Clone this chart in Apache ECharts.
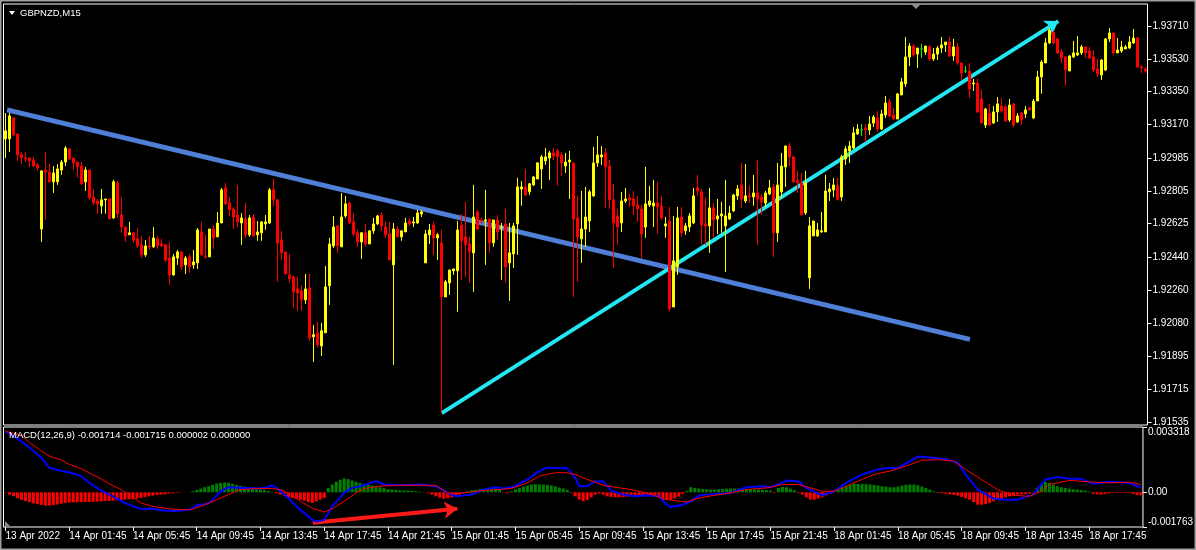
<!DOCTYPE html>
<html><head><meta charset="utf-8">
<script src="https://cdn.jsdelivr.net/npm/echarts@6/dist/echarts.min.js"></script>
<style>html,body{margin:0;padding:0;background:#000;}#chart{width:1196px;height:550px;}</style>
</head><body><div id="chart"></div>
<script>
const open = [
1.93090,1.93090,1.93205,1.93117,1.93002,1.92985,1.92985,1.92974,1.92947,1.92595,
1.92919,1.92908,1.92854,1.92854,1.92919,1.92963,1.93035,1.92985,1.92963,1.92941,
1.92854,1.92919,1.92771,1.92749,1.92722,1.92755,1.92760,1.92656,1.92848,1.92672,
1.92606,1.92563,1.92574,1.92541,1.92508,1.92453,1.92502,1.92497,1.92541,1.92513,
1.92508,1.92436,1.92343,1.92436,1.92469,1.92398,1.92442,1.92398,1.92409,1.92579,
1.92447,1.92442,1.92595,1.92552,1.92628,1.92821,1.92738,1.92705,1.92672,1.92628,
1.92650,1.92563,1.92661,1.92563,1.92574,1.92623,1.92628,1.92810,1.92755,1.92535,
1.92469,1.92343,1.92332,1.92266,1.92255,1.92206,1.92272,1.92003,1.92025,1.91953,
1.92025,1.92283,1.92502,1.92612,1.92497,1.92667,1.92738,1.92634,1.92574,1.92524,
1.92574,1.92513,1.92585,1.92623,1.92672,1.92606,1.92568,1.92398,1.92595,1.92552,
1.92579,1.92639,1.92628,1.92628,1.92678,1.92409,1.92563,1.92617,1.92546,1.92519,
1.92222,1.92299,1.92365,1.92365,1.92617,1.92552,1.92513,1.92464,1.92689,1.92645,
1.92639,1.92650,1.92519,1.92645,1.92601,1.92623,1.92409,1.92458,1.92623,1.92815,
1.92826,1.92799,1.92837,1.92870,1.92925,1.92969,1.92985,1.93013,1.93024,1.93002,
1.92941,1.92963,1.92958,1.92656,1.92541,1.92595,1.92639,1.92777,1.92958,1.92991,
1.93013,1.92941,1.92755,1.92667,1.92628,1.92749,1.92766,1.92760,1.92727,1.92705,
1.92606,1.92727,1.92722,1.92738,1.92722,1.92612,1.92639,1.92167,1.92387,1.92661,
1.92585,1.92606,1.92628,1.92821,1.92799,1.92623,1.92612,1.92711,1.92650,1.92667,
1.92612,1.92650,1.92694,1.92777,1.92837,1.92749,1.92777,1.92771,1.92793,1.92771,
1.92738,1.92788,1.92826,1.92574,1.92799,1.92936,1.93051,1.92991,1.92859,1.92848,
1.92683,1.92327,1.92557,1.92557,1.92579,1.92579,1.92799,1.92810,1.92832,1.92771,
1.92980,1.93024,1.93040,1.93117,1.93139,1.93150,1.93139,1.93177,1.93205,1.93144,
1.93221,1.93293,1.93221,1.93199,1.93331,1.93392,1.93540,1.93600,1.93556,1.93584,
1.93567,1.93595,1.93529,1.93556,1.93589,1.93606,1.93622,1.93545,1.93595,1.93507,
1.93463,1.93463,1.93392,1.93397,1.93309,1.93166,1.93232,1.93177,1.93238,1.93271,
1.93265,1.93194,1.93282,1.93183,1.93232,1.93227,1.93260,1.93205,1.93298,1.93430,
1.93507,1.93617,1.93677,1.93639,1.93567,1.93540,1.93463,1.93540,1.93551,1.93562,
1.93595,1.93573,1.93540,1.93474,1.93441,1.93468,1.93639,1.93672,1.93562,1.93573,
1.93584,1.93589,1.93617,1.93644,1.93485,1.93474];
const close = [
1.93134,1.93216,1.93112,1.93002,1.92985,1.92980,1.92969,1.92941,1.92930,1.92914,
1.92908,1.92854,1.92903,1.92925,1.92963,1.93040,1.92980,1.92958,1.92936,1.92843,
1.92919,1.92766,1.92738,1.92733,1.92755,1.92760,1.92650,1.92854,1.92678,1.92606,
1.92557,1.92574,1.92535,1.92502,1.92453,1.92502,1.92497,1.92546,1.92502,1.92502,
1.92425,1.92343,1.92442,1.92469,1.92387,1.92436,1.92387,1.92414,1.92590,1.92453,
1.92442,1.92595,1.92546,1.92628,1.92810,1.92733,1.92700,1.92661,1.92634,1.92656,
1.92563,1.92656,1.92557,1.92579,1.92634,1.92634,1.92810,1.92755,1.92519,1.92464,
1.92348,1.92321,1.92250,1.92244,1.92206,1.92266,1.91997,1.92014,1.91959,1.92036,
1.92277,1.92513,1.92606,1.92502,1.92661,1.92733,1.92628,1.92568,1.92524,1.92574,
1.92513,1.92585,1.92623,1.92667,1.92612,1.92563,1.92425,1.92595,1.92552,1.92585,
1.92628,1.92623,1.92634,1.92683,1.92689,1.92568,1.92590,1.92546,1.92563,1.92222,
1.92305,1.92370,1.92376,1.92590,1.92530,1.92508,1.92469,1.92661,1.92595,1.92639,
1.92645,1.92519,1.92645,1.92579,1.92606,1.92387,1.92464,1.92612,1.92826,1.92826,
1.92782,1.92843,1.92881,1.92958,1.92991,1.92991,1.93013,1.92996,1.92991,1.92958,
1.92963,1.92974,1.92650,1.92552,1.92595,1.92661,1.92799,1.92958,1.93002,1.93002,
1.92936,1.92755,1.92628,1.92606,1.92749,1.92760,1.92755,1.92722,1.92705,1.92568,
1.92733,1.92749,1.92738,1.92716,1.92656,1.92623,1.92156,1.92420,1.92656,1.92574,
1.92612,1.92667,1.92777,1.92804,1.92617,1.92612,1.92711,1.92645,1.92667,1.92678,
1.92667,1.92683,1.92782,1.92815,1.92760,1.92777,1.92771,1.92793,1.92760,1.92744,
1.92793,1.92821,1.92574,1.92837,1.92941,1.93051,1.92991,1.92854,1.92848,1.92672,
1.92848,1.92612,1.92639,1.92590,1.92585,1.92804,1.92815,1.92837,1.92755,1.92991,
1.93035,1.93051,1.93123,1.93144,1.93139,1.93139,1.93172,1.93210,1.93144,1.93227,
1.93287,1.93216,1.93199,1.93337,1.93403,1.93540,1.93600,1.93551,1.93589,1.93584,
1.93600,1.93529,1.93556,1.93589,1.93606,1.93622,1.93545,1.93595,1.93507,1.93452,
1.93463,1.93364,1.93397,1.93238,1.93177,1.93254,1.93166,1.93238,1.93282,1.93243,
1.93188,1.93276,1.93166,1.93216,1.93194,1.93249,1.93249,1.93298,1.93430,1.93512,
1.93617,1.93688,1.93617,1.93562,1.93534,1.93468,1.93545,1.93562,1.93562,1.93595,
1.93562,1.93534,1.93468,1.93446,1.93523,1.93639,1.93672,1.93562,1.93578,1.93595,
1.93595,1.93622,1.93644,1.93485,1.93479,1.93463];
const high = [
1.93232,1.93232,1.93210,1.93117,1.93018,1.93018,1.92985,1.92991,1.92958,1.92919,
1.93018,1.92952,1.92941,1.92952,1.92974,1.93051,1.93035,1.92985,1.92963,1.92963,
1.92936,1.92919,1.92815,1.92760,1.92815,1.92760,1.92766,1.92865,1.92859,1.92771,
1.92606,1.92634,1.92574,1.92601,1.92557,1.92535,1.92557,1.92606,1.92557,1.92541,
1.92508,1.92524,1.92458,1.92480,1.92475,1.92447,1.92458,1.92480,1.92601,1.92634,
1.92563,1.92595,1.92617,1.92689,1.92821,1.92848,1.92771,1.92716,1.92837,1.92683,
1.92738,1.92672,1.92678,1.92639,1.92639,1.92672,1.92821,1.92870,1.92760,1.92585,
1.92469,1.92458,1.92338,1.92332,1.92283,1.92348,1.92348,1.92068,1.92085,1.92079,
1.92392,1.92546,1.92667,1.92617,1.92793,1.92777,1.92744,1.92683,1.92590,1.92579,
1.92623,1.92585,1.92656,1.92672,1.92689,1.92634,1.92634,1.92628,1.92612,1.92585,
1.92656,1.92656,1.92661,1.92700,1.92700,1.92590,1.92623,1.92634,1.92574,1.92590,
1.92316,1.92370,1.92376,1.92639,1.92678,1.92744,1.92552,1.92837,1.92700,1.92656,
1.92810,1.92650,1.92645,1.92672,1.92628,1.92705,1.92628,1.92628,1.92876,1.92859,
1.92925,1.92848,1.92887,1.92963,1.93002,1.93040,1.93024,1.93040,1.93035,1.93018,
1.93013,1.93024,1.92958,1.92777,1.92804,1.92826,1.92810,1.93046,1.93106,1.93051,
1.93040,1.92974,1.92843,1.92705,1.92799,1.92821,1.92788,1.92804,1.92777,1.92727,
1.92936,1.92832,1.92865,1.92854,1.92777,1.92661,1.92716,1.92667,1.92716,1.92716,
1.92628,1.92683,1.92821,1.92892,1.92815,1.92766,1.92821,1.92738,1.92760,1.92744,
1.92865,1.92722,1.92788,1.92837,1.92958,1.92952,1.92832,1.92892,1.92974,1.92788,
1.92804,1.92865,1.92843,1.92958,1.93013,1.93051,1.93068,1.92996,1.92914,1.92903,
1.92914,1.92661,1.92639,1.92628,1.92689,1.92892,1.92848,1.92876,1.92876,1.93002,
1.93051,1.93079,1.93155,1.93172,1.93172,1.93172,1.93216,1.93221,1.93243,1.93249,
1.93326,1.93309,1.93260,1.93342,1.93425,1.93650,1.93617,1.93611,1.93589,1.93611,
1.93600,1.93606,1.93589,1.93600,1.93650,1.93622,1.93650,1.93639,1.93617,1.93507,
1.93490,1.93507,1.93419,1.93419,1.93359,1.93260,1.93282,1.93271,1.93320,1.93315,
1.93276,1.93309,1.93287,1.93232,1.93238,1.93271,1.93265,1.93309,1.93463,1.93523,
1.93644,1.93699,1.93683,1.93644,1.93584,1.93540,1.93551,1.93628,1.93655,1.93606,
1.93600,1.93595,1.93578,1.93529,1.93529,1.93644,1.93699,1.93672,1.93644,1.93628,
1.93606,1.93655,1.93694,1.93650,1.93496,1.93485];
const low = [
1.92985,1.93018,1.93106,1.92969,1.92952,1.92963,1.92936,1.92936,1.92914,1.92524,
1.92645,1.92848,1.92793,1.92837,1.92892,1.92941,1.92974,1.92919,1.92876,1.92837,
1.92804,1.92755,1.92727,1.92678,1.92678,1.92678,1.92650,1.92650,1.92656,1.92574,
1.92524,1.92563,1.92519,1.92491,1.92436,1.92442,1.92480,1.92491,1.92486,1.92497,
1.92414,1.92288,1.92338,1.92398,1.92370,1.92348,1.92354,1.92376,1.92376,1.92447,
1.92431,1.92442,1.92486,1.92552,1.92628,1.92727,1.92667,1.92595,1.92606,1.92508,
1.92546,1.92552,1.92552,1.92530,1.92530,1.92590,1.92623,1.92722,1.92305,1.92425,
1.92348,1.92299,1.92162,1.92145,1.92145,1.92184,1.91981,1.91865,1.91942,1.91898,
1.92025,1.92178,1.92491,1.92464,1.92497,1.92656,1.92623,1.92557,1.92497,1.92431,
1.92497,1.92513,1.92568,1.92617,1.92585,1.92546,1.92425,1.91849,1.92552,1.92530,
1.92579,1.92612,1.92606,1.92623,1.92661,1.92409,1.92513,1.92453,1.92425,1.91585,
1.92222,1.92233,1.92343,1.92140,1.92316,1.92332,1.92299,1.92250,1.92590,1.92623,
1.92398,1.92464,1.92497,1.92535,1.92316,1.92299,1.92200,1.92381,1.92453,1.92722,
1.92777,1.92782,1.92832,1.92870,1.92815,1.92947,1.92865,1.92974,1.92832,1.92887,
1.92903,1.92760,1.92222,1.92305,1.92409,1.92497,1.92579,1.92771,1.92936,1.92947,
1.92711,1.92705,1.92381,1.92508,1.92579,1.92738,1.92716,1.92672,1.92634,1.92436,
1.92546,1.92716,1.92606,1.92568,1.92645,1.92546,1.92145,1.92167,1.92343,1.92552,
1.92563,1.92579,1.92623,1.92777,1.92508,1.92508,1.92464,1.92546,1.92568,1.92574,
1.92359,1.92645,1.92689,1.92755,1.92711,1.92738,1.92738,1.92722,1.92508,1.92672,
1.92716,1.92782,1.92442,1.92524,1.92766,1.92826,1.92941,1.92848,1.92793,1.92672,
1.92672,1.92266,1.92557,1.92552,1.92574,1.92579,1.92749,1.92771,1.92755,1.92749,
1.92947,1.92958,1.93035,1.93112,1.93106,1.93073,1.93112,1.93155,1.93128,1.93139,
1.93205,1.93210,1.93199,1.93199,1.93331,1.93375,1.93490,1.93540,1.93479,1.93534,
1.93551,1.93518,1.93518,1.93523,1.93562,1.93567,1.93540,1.93518,1.93496,1.93414,
1.93452,1.93315,1.93353,1.93232,1.93177,1.93150,1.93161,1.93172,1.93183,1.93232,
1.93183,1.93183,1.93155,1.93177,1.93166,1.93205,1.93249,1.93199,1.93298,1.93337,
1.93507,1.93611,1.93611,1.93556,1.93507,1.93381,1.93463,1.93534,1.93545,1.93551,
1.93534,1.93529,1.93457,1.93430,1.93414,1.93463,1.93622,1.93551,1.93562,1.93562,
1.93584,1.93584,1.93611,1.93479,1.93452,1.93452];
const hist = [
-0.000020,-0.000120,-0.000200,-0.000300,-0.000380,-0.000450,-0.000500,-0.000560,-0.000600,-0.000640,
-0.000680,-0.000680,-0.000650,-0.000620,-0.000580,-0.000540,-0.000520,-0.000510,-0.000500,-0.000500,
-0.000494,-0.000494,-0.000477,-0.000477,-0.000460,-0.000443,-0.000443,-0.000426,-0.000409,-0.000392,
-0.000374,-0.000357,-0.000340,-0.000323,-0.000289,-0.000238,-0.000203,-0.000169,-0.000135,-0.000118,
-0.000101,-0.000067,-0.000050,-0.000032,-0.000015,-0.000007,-0.000003,0.000053,0.000121,0.000190,
0.000258,0.000310,0.000378,0.000446,0.000481,0.000498,0.000481,0.000429,0.000378,0.000327,
0.000292,0.000258,0.000224,0.000190,0.000156,0.000121,0.000070,0.000019,-0.000050,-0.000118,
-0.000186,-0.000255,-0.000289,-0.000323,-0.000374,-0.000426,-0.000494,-0.000545,-0.000460,-0.000374,
-0.000289,0.000224,0.000395,0.000532,0.000634,0.000703,0.000669,0.000600,0.000532,0.000481,
0.000429,0.000378,0.000344,0.000310,0.000258,0.000207,0.000156,0.000139,0.000121,0.000104,
0.000087,0.000087,0.000070,0.000053,0.000036,0.000019,-0.000032,-0.000118,-0.000203,-0.000272,
-0.000323,-0.000306,-0.000255,-0.000169,-0.000118,-0.000032,0.000053,0.000104,0.000121,0.000156,
0.000190,0.000224,0.000224,0.000190,0.000139,-0.000015,-0.000050,0.000053,0.000156,0.000224,
0.000292,0.000344,0.000395,0.000412,0.000395,0.000395,0.000378,0.000344,0.000310,0.000241,
0.000190,0.000121,-0.000032,-0.000203,-0.000374,-0.000460,-0.000392,-0.000255,-0.000118,-0.000067,
-0.000118,-0.000203,-0.000238,-0.000255,-0.000255,-0.000238,-0.000221,-0.000203,-0.000169,-0.000152,
-0.000152,-0.000135,-0.000118,-0.000152,-0.000255,-0.000374,-0.000392,-0.000374,-0.000323,-0.000221,
-0.000084,0.000053,0.000258,0.000224,0.000190,0.000173,0.000156,0.000139,0.000139,0.000156,
0.000173,0.000190,0.000190,0.000190,0.000190,0.000190,0.000173,0.000156,0.000139,0.000139,
0.000121,0.000104,0.000087,-0.000032,0.000224,0.000275,0.000258,0.000190,0.000104,-0.000032,
-0.000118,-0.000255,-0.000374,-0.000374,-0.000323,-0.000255,-0.000152,-0.000084,0.000053,0.000156,
0.000258,0.000327,0.000395,0.000429,0.000429,0.000429,0.000412,0.000395,0.000378,0.000344,
0.000310,0.000292,0.000258,0.000258,0.000292,0.000344,0.000378,0.000395,0.000395,0.000361,
0.000292,0.000224,0.000139,0.000053,-0.000032,-0.000050,-0.000067,-0.000101,-0.000135,-0.000169,
-0.000238,-0.000306,-0.000374,-0.000494,-0.000631,-0.000631,-0.000597,-0.000545,-0.000460,-0.000374,
-0.000323,-0.000255,-0.000203,-0.000152,-0.000118,-0.000101,-0.000084,-0.000067,-0.000003,0.000224,
0.000395,0.000532,0.000481,0.000395,0.000310,0.000258,0.000224,0.000190,0.000156,0.000139,
0.000121,0.000087,0.000036,-0.000084,-0.000101,-0.000118,-0.000084,-0.000050,-0.000032,-0.000032,
-0.000032,-0.000032,-0.000032,-0.000084,-0.000135,-0.000152];
// MACD main line, read at these bar positions
const macdBars = [0,2,5,9,11,14,16,19,21,24,27,30,34,37,40,43,46,47,48,51,52,54,56,60,64,66,67,68,69,71,73,75,77,78,80,82,85,87,89,93,95,99,104,108,111,113,117,120,123,125,128,131,134,136,141,143,144,146,148,150,152,155,158,161,164,166,167,170,172,174,176,182,186,190,192,194,196,199,201,205,208,211,215,219,222,224,226,229,232,236,239,241,244,248,251,254,258,261,264,267,270,273,277,282,284,285];
const macdVals = [0.003100,0.002870,0.002440,0.001760,0.001250,0.001080,0.001020,0.000820,0.000480,0.000100,-0.000203,-0.000545,-0.000853,-0.000836,-0.000939,-0.000939,-0.000887,-0.000802,-0.000665,-0.000563,-0.000374,0.000053,0.000258,0.000224,0.000190,0.000258,0.000361,0.000224,0.000053,-0.000289,-0.000716,-0.001058,-0.001400,-0.001486,-0.001400,-0.000716,-0.000032,0.000224,0.000310,0.000566,0.000395,0.000361,0.000395,0.000310,-0.000032,-0.000203,-0.000118,0.000139,0.000258,0.000190,0.000310,0.000652,0.001079,0.001250,0.001216,0.000737,0.000310,0.000310,0.000549,0.000566,0.000087,-0.000118,-0.000203,-0.000152,-0.000203,-0.000631,-0.000751,-0.000631,-0.000460,-0.000169,-0.000118,-0.000032,0.000258,0.000310,0.000258,0.000395,0.000600,0.000566,0.000224,-0.000152,0.000053,0.000481,0.000908,0.001165,0.001250,0.001216,0.001455,0.001814,0.001763,0.001678,0.001507,0.000908,0.000139,-0.000323,-0.000374,-0.000374,-0.000118,0.000652,0.000771,0.000686,0.000686,0.000429,0.000532,0.000481,0.000310,0.000258];
// signal line
const sigBars = [0,4,6,9,11,14,16,19,21,24,26,29,34,37,41,45,47,50,53,56,59,63,67,69,71,74,77,80,82,85,88,90,94,99,104,108,111,114,118,123,127,131,134,138,141,143,145,148,150,153,157,161,165,168,171,174,178,182,186,191,195,199,202,205,208,211,215,218,222,226,230,234,238,241,245,249,253,257,260,262,267,272,277,282,285];
const sigVals = [0.003100,0.002900,0.002530,0.002100,0.001840,0.001640,0.001420,0.001200,0.000990,0.000680,0.000440,0.000140,-0.000545,-0.000716,-0.000836,-0.000887,-0.000853,-0.000631,-0.000374,-0.000118,0.000139,0.000190,0.000190,0.000139,-0.000032,-0.000460,-0.000802,-0.001007,-0.000836,-0.000460,-0.000032,0.000190,0.000310,0.000361,0.000361,0.000344,-0.000032,-0.000067,0.000053,0.000139,0.000190,0.000481,0.000823,0.000994,0.000994,0.000908,0.000737,0.000515,0.000361,0.000258,0.000139,-0.000032,-0.000323,-0.000426,-0.000494,-0.000289,-0.000152,-0.000032,0.000139,0.000224,0.000395,0.000395,0.000224,0.000053,0.000053,0.000310,0.000652,0.000908,0.001079,0.001336,0.001626,0.001660,0.001592,0.001165,0.000652,0.000139,-0.000152,-0.000203,0.000053,0.000395,0.000600,0.000532,0.000481,0.000515,0.000395];
// drawn objects: [barPosition, value]
const trendBlue = [[0.4, 1.93249], [241.1, 1.91989]];
const trendCyan = [[109.05, 1.91584], [263.2, 1.93737]];
const macdArrow = [[77.1, -0.001542], [113.4, -0.000839]];
const priceTicks = [1.91535,1.91715,1.91895,1.92080,1.92260,1.92440,1.92625,1.92805,1.92985,1.93170,1.93350,1.93530,1.93710];
const macdTicks = [-0.001763, 0, 0.003318];
const firstBarTime = Date.UTC(2022, 3, 13, 21, 45);
const MONTHS = ['Jan','Feb','Mar','Apr','May','Jun','Jul','Aug','Sep','Oct','Nov','Dec'];

const N = open.length;
const pad = n => String(n).padStart(2, '0');
const categories = [];
let t = firstBarTime;
for (let i = 0; i < N; i++) {
  const d = new Date(t);
  categories.push(pad(d.getUTCDate()) + ' ' + MONTHS[d.getUTCMonth()] + ' ' + pad(d.getUTCHours()) + ':' + pad(d.getUTCMinutes()));
  t += 15 * 60000;
  if (new Date(t).getUTCDay() === 6) t += 2 * 86400000;
}
const firstLabel = (() => { const d = new Date(firstBarTime); return pad(d.getUTCDate()) + ' ' + MONTHS[d.getUTCMonth()] + ' ' + d.getUTCFullYear(); })();
const candles = open.map((o, i) => [o, close[i], low[i], high[i]]);
const macdLine = macdBars.map((b, i) => [b, macdVals[i]]);
const sigLine = sigBars.map((b, i) => [b, sigVals[i]]);

const FONT = 'Liberation Sans';
const GRID_L = 3.5, GRID_W = 1144;
const chart = echarts.init(document.getElementById('chart'), null, {renderer: 'canvas', width: 1196, height: 550});
const labelEvery = idx => idx % 16 === 0;
chart.setOption({
  animation: false,
  backgroundColor: '#000000',
  title: [
    {text: 'GBPNZD,M15', left: 20, top: 8, padding: 0, textStyle: {color: '#ffffff', fontSize: 9.5, fontFamily: FONT, fontWeight: 'normal'}},
    {text: 'MACD(12,26,9) -0.001714 -0.001715 0.000002 0.000000', left: 9, top: 430.5, padding: 0, textStyle: {color: '#ffffff', fontSize: 9.5, fontFamily: FONT, fontWeight: 'normal'}}
  ],
  grid: [
    {left: GRID_L, width: GRID_W, top: 4, height: 421, show: true, borderColor: '#ffffff', borderWidth: 1, backgroundColor: 'transparent'},
    {left: GRID_L, width: GRID_W, top: 427, height: 100, show: true, borderColor: '#ffffff', borderWidth: 1, backgroundColor: 'transparent'}
  ],
  xAxis: [
    {type: 'category', gridIndex: 0, data: categories, show: false},
    {type: 'value', gridIndex: 0, min: -0.5, max: N - 0.5, show: false},
    {type: 'category', gridIndex: 1, data: categories,
      axisLine: {show: false, onZero: false},
      axisTick: {show: true, alignWithLabel: true, interval: labelEvery, length: 4, lineStyle: {color: '#ffffff'}},
      axisLabel: {interval: labelEvery, color: '#ffffff', fontFamily: FONT, fontSize: 10, align: 'left', margin: 4,
        formatter: (v, idx) => idx === 0 ? firstLabel : v},
      splitLine: {show: false}},
    {type: 'value', gridIndex: 1, min: -0.5, max: N - 0.5, show: false}
  ],
  yAxis: [
    {type: 'value', gridIndex: 0, position: 'right', min: 1.915185, max: 1.938308, scale: true,
      axisLine: {show: false, onZero: false}, splitLine: {show: false},
      axisTick: {show: true, customValues: priceTicks, length: 4, lineStyle: {color: '#ffffff'}},
      axisLabel: {customValues: priceTicks, color: '#ffffff', fontFamily: FONT, fontSize: 10, margin: 5,
        formatter: v => v.toFixed(5)}},
    {type: 'value', gridIndex: 1, position: 'right', min: -0.001763, max: 0.003318,
      axisLine: {show: false, onZero: false}, splitLine: {show: false},
      axisTick: {show: true, customValues: macdTicks, length: 4, lineStyle: {color: '#ffffff'}},
      axisLabel: {customValues: macdTicks, color: '#ffffff', fontFamily: FONT, fontSize: 10, margin: 5,
        verticalAlignMaxLabel: 'top', verticalAlignMinLabel: 'bottom',
        formatter: v => v === 0 ? '0.00' : v.toFixed(6)}}
  ],
  series: [
    {type: 'candlestick', xAxisIndex: 0, yAxisIndex: 0, data: candles, barWidth: 2, clip: false,
      itemStyle: {color: '#ffff00', color0: '#ff0000', borderColor: '#ffff00', borderColor0: '#ff0000',
        borderColorDoji: '#00ff00', borderWidth: 1}},
    {type: 'lines', coordinateSystem: 'cartesian2d', xAxisIndex: 1, yAxisIndex: 0, silent: true,
      data: [{coords: trendBlue}], lineStyle: {color: '#4f7fd6', width: 5, opacity: 1}, symbol: ['none', 'none']},
    {type: 'lines', coordinateSystem: 'cartesian2d', xAxisIndex: 1, yAxisIndex: 0, silent: true,
      data: [{coords: trendCyan}], lineStyle: {color: '#22e6f2', width: 4, opacity: 1}, symbol: ['none', 'arrow'], symbolSize: 13},
    {type: 'bar', xAxisIndex: 2, yAxisIndex: 1, data: hist, barWidth: 3,
      itemStyle: {color: p => p.value >= 0 ? '#008000' : '#ff0000'}},
    {type: 'line', xAxisIndex: 3, yAxisIndex: 1, data: macdLine, showSymbol: false, symbol: 'none',
      lineStyle: {color: '#0000ff', width: 2}},
    {type: 'line', xAxisIndex: 3, yAxisIndex: 1, data: sigLine, showSymbol: false, symbol: 'none',
      lineStyle: {color: '#ff0000', width: 1}},
    {type: 'lines', coordinateSystem: 'cartesian2d', xAxisIndex: 3, yAxisIndex: 1, silent: true,
      data: [{coords: macdArrow}], lineStyle: {color: '#ff1a1a', width: 4, opacity: 1}, symbol: ['none', 'arrow'], symbolSize: 13}
  ],
  graphic: [
    {type: 'rect', shape: {x: 0.5, y: 0.5, width: 1195, height: 549}, style: {fill: 'none', stroke: '#a0a0a0', lineWidth: 2}, silent: true},
    {type: 'polygon', shape: {points: [[9, 11], [15, 11], [12, 15]]}, style: {fill: '#ffffff'}, silent: true},
    {type: 'polygon', shape: {points: [[911, 4], [921, 4], [916, 9]]}, style: {fill: '#8c8c8c'}, silent: true},
    {type: 'polygon', shape: {points: [[5, 521], [5, 526], [10, 526]]}, style: {fill: '#8c8c8c'}, silent: true}
  ]
});
</script></body></html>
